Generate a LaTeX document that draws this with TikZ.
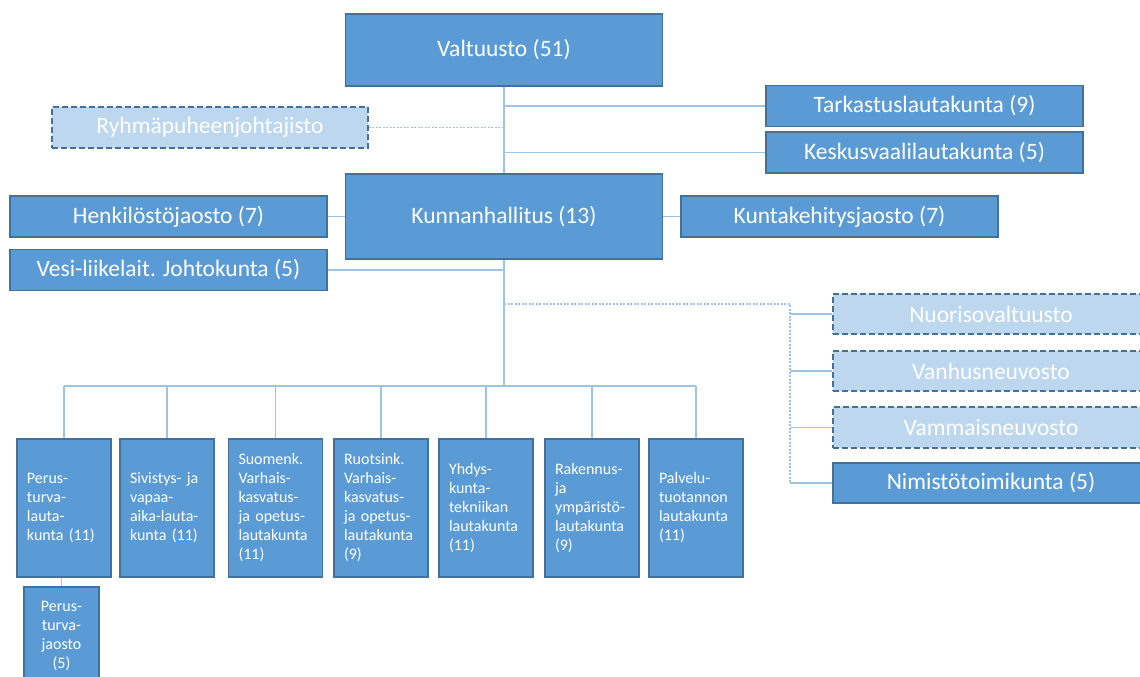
\documentclass[tikz,border=0pt]{standalone}
\usepackage{fontspec}
\setmainfont{Carlito}
\definecolor{mainfill}{RGB}{91,155,213}
\definecolor{mainborder}{RGB}{65,113,156}
\definecolor{lightfill}{RGB}{189,215,238}
\definecolor{conn}{RGB}{157,195,230}
\begin{document}
\begin{tikzpicture}[x=1pt,y=-1pt,
  box/.style={draw=mainborder, line width=1.2pt, fill=mainfill, text=white, inner sep=0pt, font=\fontsize{23.5}{27}\selectfont},
  dbox/.style={box, fill=lightfill, dash pattern=on 6pt off 3pt},
  wide/.style={minimum width=317pt, minimum height=41pt},
  small/.style={draw=mainborder, line width=1.2pt, fill=mainfill, text=white, inner ysep=0pt, inner xsep=10pt, minimum width=94pt, minimum height=138pt, text width=74pt, align=left, font=\fontsize{16}{19}\selectfont},
  link/.style={draw=conn, line width=1.5pt},
  dlink/.style={draw=conn, line width=1.5pt, dash pattern=on 2pt off 1.5pt}]
\useasboundingbox (0,0) rectangle (1140,677);
\begin{scope}
\clip (0,0) rectangle (1140,677);
% top level
\node[box, minimum width=317pt, minimum height=72pt] (valt) at (504,50) {Valtuusto (51)};
\node[box, minimum width=317pt, minimum height=85pt] (kh) at (504,216.5) {Kunnanhallitus (13)};
\node[dbox, minimum width=316pt, minimum height=41pt] (ryh) at (210,127.5) {Ryhmäpuheenjohtajisto};
\node[box, wide] (tark) at (924.5,106) {Tarkastuslautakunta (9)};
\node[box, wide] (kesk) at (924.5,152.5) {Keskusvaalilautakunta (5)};
\node[box, wide] (henk) at (168.5,216.5) {Henkilöstöjaosto (7)};
\node[box, wide] (vesi) at (168.5,270) {Vesi-liikelait. Johtokunta (5)};
\node[box, wide] (kunta) at (839.5,216.5) {Kuntakehitysjaosto (7)};
% advisory
\node[dbox, minimum width=316pt, minimum height=40pt] (nuor) at (991,314) {Nuorisovaltuusto};
\node[dbox, minimum width=316pt, minimum height=40pt] (vanh) at (991,371) {Vanhusneuvosto};
\node[dbox, minimum width=316pt, minimum height=41pt] (vamm) at (991,427.5) {Vammaisneuvosto};
\node[box, minimum width=316pt, minimum height=40pt] (nimi) at (991,483) {Nimistötoimikunta (5)};
% boards
\node[small] (b1) at (64,508) {Perus-\\turva-\\lauta-\\kunta (11)};
\node[small] (b2) at (167,508) {Sivistys- ja\\vapaa-\\aika-lauta-\\kunta (11)};
\node[small] (b3) at (275.5,508) {Suomenk.\\Varhais-\\kasvatus-\\ja opetus-\\lautakunta\\(11)};
\node[small] (b4) at (381,508) {Ruotsink.\\Varhais-\\kasvatus-\\ja opetus-\\lautakunta\\(9)};
\node[small] (b5) at (486,508) {Yhdys-\\kunta-\\tekniikan\\lautakunta\\(11)};
\node[small] (b6) at (592,508) {Rakennus-\\ja\\ympäristö-\\lautakunta\\(9)};
\node[small] (b7) at (696,508) {Palvelu-\\tuotannon\\lautakunta\\(11)};
\node[small, minimum width=75pt, minimum height=98pt, text width=65pt, inner xsep=5pt, align=center] (jao) at (61.5,636) {Perus-\\turva-\\jaosto\\(5)};
% coordinates
\coordinate (bus) at (504,386);
\coordinate (dtop) at (790,304);
\coordinate (dbot) at (790,483);
% connectors
\draw[link] (valt.south) -- (kh.north);
\draw[link] (kh.south) -- (bus);
\draw[link] (valt.south |- tark.west) -- (tark.west);
\draw[link] (valt.south |- kesk.west) -- (kesk.west);
\draw[dlink] (ryh.east) -- (valt.south |- ryh.east);
\draw[link] (henk.east) -- (kh.west);
\draw[link] (kh.east) -- (kunta.west);
\draw[link] (vesi.east) -- (kh.south |- vesi.east);
\draw[dlink] (kh.south |- dtop) -- (dtop) -- (dbot);
\draw[link] (dtop |- nuor.west) -- (nuor.west);
\draw[link] (dtop |- vanh.west) -- (vanh.west);
\draw[link] (dtop |- vamm.west) -- (vamm.west);
\draw[link] (dbot) -- (nimi.west);
\draw[link] (b1.north |- bus) -- (b7.north |- bus);
\foreach \b in {b1,b2,b3,b4,b5,b6,b7} {\draw[link] (\b.north |- bus) -- (\b.north);}
\draw[link] (jao.north |- b1.south) -- (jao.north);
\end{scope}
\end{tikzpicture}
\end{document}
